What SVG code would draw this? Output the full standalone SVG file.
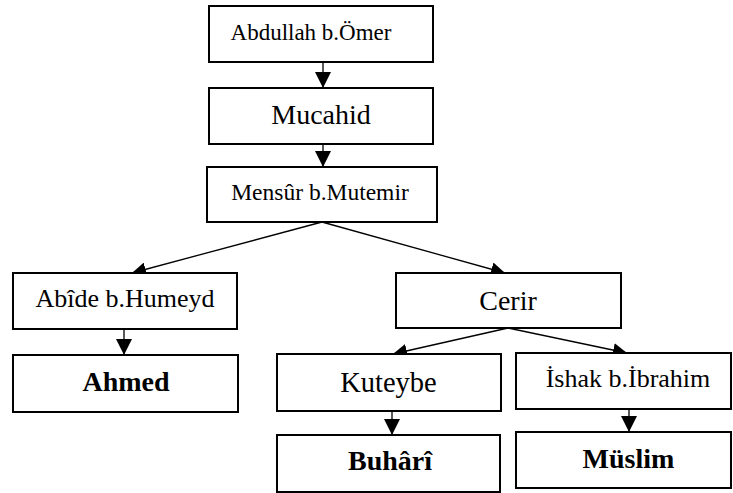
<svg xmlns="http://www.w3.org/2000/svg" width="733" height="493" viewBox="0 0 733 493">
<defs>
<style>
.box{fill:#fff;stroke:#000;stroke-width:2}
.t{font-family:"Liberation Serif","Times New Roman",serif;fill:#000;text-anchor:middle}
.b{font-weight:bold}
.c{stroke:#000;stroke-width:1.3;fill:none}
</style>
<marker id="ah" markerUnits="userSpaceOnUse" markerWidth="16" markerHeight="16" refX="16" refY="8" orient="auto" viewBox="0 0 16 16">
<path d="M0,0 L16,8 L0,16 z" fill="#000"/>
</marker>
<marker id="as" markerUnits="userSpaceOnUse" markerWidth="14" markerHeight="14" refX="14" refY="7" orient="auto" viewBox="0 0 14 14">
<path d="M0,0 L14,7 L0,14 z" fill="#000"/>
</marker>
</defs>
<rect width="733" height="493" fill="#fff"/>
<g id="connectors">
<line class="c" x1="323" y1="62" x2="323" y2="88" marker-end="url(#ah)"/>
<line class="c" x1="323" y1="144" x2="323" y2="167" marker-end="url(#ah)"/>
<line class="c" x1="322" y1="222" x2="132" y2="273" marker-end="url(#as)"/>
<line class="c" x1="322" y1="222" x2="505" y2="273" marker-end="url(#as)"/>
<line class="c" x1="124" y1="329" x2="124" y2="355" marker-end="url(#ah)"/>
<line class="c" x1="508" y1="328" x2="393" y2="354" marker-end="url(#as)"/>
<line class="c" x1="508" y1="328" x2="627" y2="353" marker-end="url(#as)"/>
<line class="c" x1="392" y1="411" x2="392" y2="435" marker-end="url(#ah)"/>
<line class="c" x1="629" y1="409" x2="629" y2="432" marker-end="url(#ah)"/>
</g>
<g id="abdullah"><rect class="box" x="209" y="6" width="224" height="56"/><text class="t" x="311" y="40" font-size="23">Abdullah b.Ömer</text></g>
<g id="mucahid"><rect class="box" x="209" y="88" width="224" height="56"/><text class="t" x="321" y="124" font-size="28">Mucahid</text></g>
<g id="mensur"><rect class="box" x="207" y="167" width="230" height="55"/><text class="t" x="320" y="200" font-size="23.5">Mensûr b.Mutemir</text></g>
<g id="abide"><rect class="box" x="13" y="273" width="224" height="56"/><text class="t" x="125" y="307" font-size="26">Abîde b.Humeyd</text></g>
<g id="ahmed"><rect class="box" x="13" y="355" width="225" height="57"/><text class="t b" x="126" y="391" font-size="28">Ahmed</text></g>
<g id="cerir"><rect class="box" x="396" y="273" width="225" height="55"/><text class="t" x="508" y="310" font-size="28">Cerir</text></g>
<g id="kuteybe"><rect class="box" x="277" y="354" width="224" height="57"/><text class="t" x="388.5" y="392" font-size="28.5">Kuteybe</text></g>
<g id="ishak"><rect class="box" x="516" y="353" width="215" height="56"/><text class="t" x="628" y="387" font-size="26">İshak b.İbrahim</text></g>
<g id="buhari"><rect class="box" x="277" y="435" width="223" height="57"/><text class="t b" x="390" y="470" font-size="28">Buhârî</text></g>
<g id="muslim"><rect class="box" x="516" y="432" width="215" height="56"/><text class="t b" x="628.5" y="468" font-size="28">Müslim</text></g>
</svg>
